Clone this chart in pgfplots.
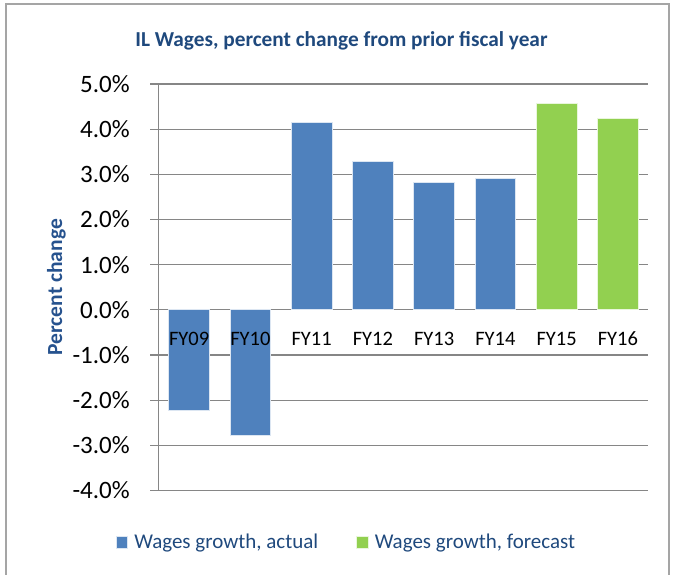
\documentclass[border=0pt]{standalone}
\usepackage{fontspec}
\setmainfont{Carlito}
\usepackage{pgfplots}
\pgfplotsset{compat=1.18}
\definecolor{barblue}{RGB}{79,129,189}
\definecolor{bargreen}{RGB}{146,208,80}
\definecolor{titleblue}{RGB}{31,73,125}
\definecolor{labelblue}{RGB}{38,82,142}
\definecolor{gridgray}{RGB}{134,134,134}
\definecolor{framegray}{RGB}{165,165,165}
\pgfplotsset{
  mygeom/.style={at={(158.5pt,84.5pt)}, anchor=south west, scale only axis,
    width=490pt, height=406.5pt, xmin=-0.5, xmax=7.5, ymin=-4, ymax=5},
}
\begin{document}
\begin{tikzpicture}[x=1pt,y=1pt]
\useasboundingbox (0,0) rectangle (673,575);
\draw[framegray, line width=1.5pt] (6,-2) -- (6,571) -- (669,571) -- (669,-2);
\node[font=\bfseries\fontsize{21.3}{23}\selectfont, text=titleblue, anchor=base] at (341.5,528) {IL Wages, percent change from prior fiscal year};
\begin{axis}[
  mygeom,
  axis y line*=left, axis x line*=middle,
  hide obscured x ticks=false, hide obscured y ticks=false,
  x axis line style={-, gridgray, line width=1.2pt},
  y axis line style={-, gridgray, line width=1.2pt},
  ytick={-4,-3,...,5},
  ymajorgrids, grid style={gridgray, line width=1.2pt},
  major tick length=8pt, tick align=outside,
  ytick style={gridgray, line width=1.2pt},
  xtick={0,...,7}, xtick style={draw=none}, xticklabels={},
  yticklabel={\pgfmathprintnumber[fixed,fixed zerofill,precision=1,assume math mode=true]{\tick}\%},
  yticklabel style={font=\fontsize{25}{26}\selectfont, xshift=-17.2pt},
  ylabel={Percent change},
  every axis y label/.style={at={(rel axis cs:0,0.5)}, xshift=-102pt, rotate=90, anchor=center, font=\bfseries\fontsize{21.5}{23}\selectfont, text=labelblue},
  legend style={at={(rel axis cs:0.3816,0)}, anchor=center, yshift=-51.9pt, draw=none, fill=none,
    legend columns=2, font=\fontsize{21}{22}\selectfont, text=titleblue, nodes={inner sep=0pt},
    /tikz/every odd column/.append style={column sep=6pt},
    /tikz/every even column/.append style={column sep=38pt}},
  legend image code/.code={\fill[#1] (0pt,-5.85pt) rectangle (11.7pt,5.85pt);},
]
\addplot[ybar, bar width=0.665, bar shift=0pt, fill=barblue, draw=white!80!barblue, line width=0.8pt]
  coordinates {(0,-2.23) (1,-2.77) (2,4.15) (3,3.29) (4,2.82) (5,2.91)};
\addlegendentry{Wages growth, actual}
\addplot[ybar, bar width=0.665, bar shift=0pt, fill=bargreen, draw=white!80!bargreen, line width=0.8pt]
  coordinates {(6,4.57) (7,4.24)};
\addlegendentry{Wages growth, forecast}
\end{axis}
\begin{axis}[
  mygeom,
  axis y line=none, axis x line*=middle,
  hide obscured x ticks=false,
  x axis line style={draw=none},
  xtick={0,...,7}, xtick style={draw=none},
  xticklabels={FY09,FY10,FY11,FY12,FY13,FY14,FY15,FY16},
  xticklabel style={font=\fontsize{20.5}{21}\selectfont, yshift=-18.5pt},
]
\end{axis}
\end{tikzpicture}
\end{document}
